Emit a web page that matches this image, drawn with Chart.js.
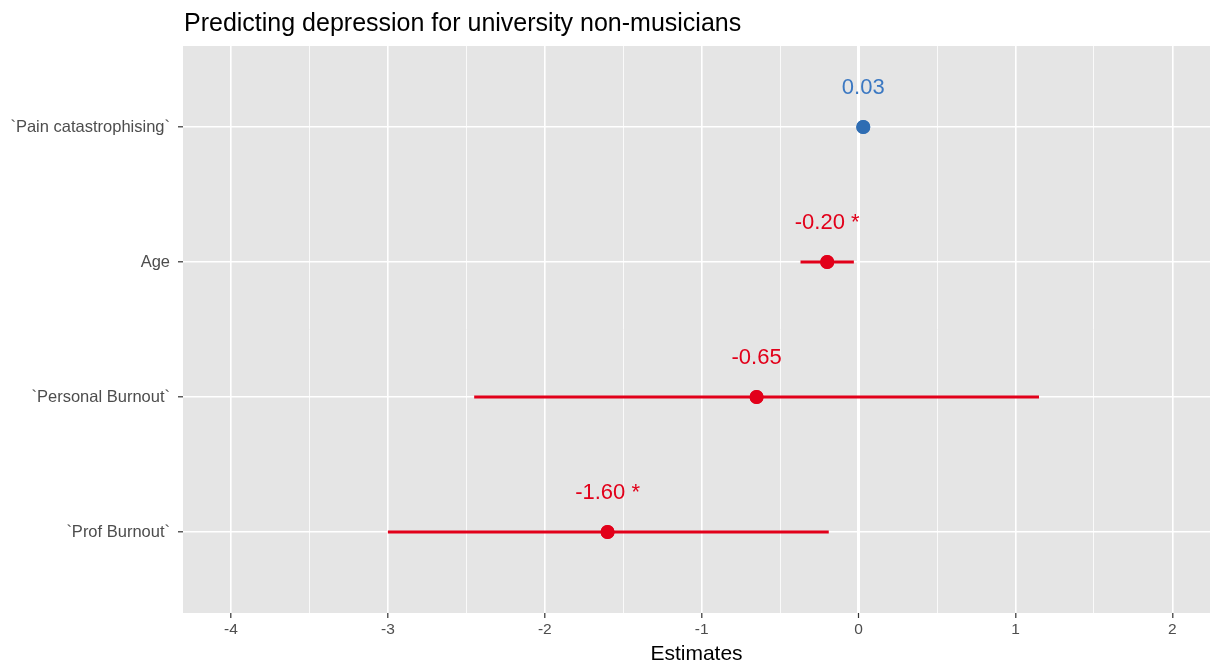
<!DOCTYPE html>
<html>
<head>
<meta charset="utf-8">
<script src="https://cdn.jsdelivr.net/npm/chart.js@4.4.1/dist/chart.umd.min.js"></script>
<style>
  html, body { margin: 0; padding: 0; background: #ffffff; }
  #wrap { width: 1210px; height: 664px; position: relative; }
</style>
</head>
<body>
<div id="wrap"><canvas id="c" width="1210" height="664"></canvas></div>
<script>
// Model terms, top to bottom
const terms = ["`Pain catastrophising`", "Age", "`Personal Burnout`", "`Prof Burnout`"];
const estimates = [0.03, -0.20, -0.65, -1.60];
const ciLow = [0.02, -0.37, -2.45, -3.00];
const ciHigh = [0.04, -0.03, 1.15, -0.19];
const stars = ["", " *", "", " *"];
const xTicks = [-4, -3, -2, -1, 0, 1, 2];

const BLUE = "#2f6db3";
const BLUE_TXT = "#3b78c2";
const RED = "#e2001a";
const colorFor = (i) => estimates[i] > 0 ? BLUE : RED;
const textColorFor = (i) => estimates[i] > 0 ? BLUE_TXT : RED;

const FONT = "'Liberation Sans', Arial, Helvetica, sans-serif";

const points = estimates.map((v, i) => ({ x: v, y: i + 1 }));

// Panel background
const panelBg = {
  id: "panelBg",
  beforeDraw(chart) {
    const { ctx, chartArea: a } = chart;
    ctx.save();
    ctx.fillStyle = "#e5e5e5";
    ctx.fillRect(a.left, a.top, a.right - a.left, a.bottom - a.top);
    ctx.restore();
  }
};

// Confidence interval bars and value labels
const intervals = {
  id: "intervals",
  afterDatasetsDraw(chart) {
    const { ctx, scales: { x, y } } = chart;
    ctx.save();
    terms.forEach((t, i) => {
      const py = y.getPixelForValue(i + 1);
      ctx.strokeStyle = colorFor(i);
      ctx.lineWidth = 3;
      ctx.beginPath();
      ctx.moveTo(x.getPixelForValue(ciLow[i]), py);
      ctx.lineTo(x.getPixelForValue(ciHigh[i]), py);
      ctx.stroke();
    });
    // points sit above their bars
    const meta = chart.getDatasetMeta(0);
    meta.data.forEach((el, i) => {
      ctx.fillStyle = colorFor(i);
      ctx.beginPath();
      ctx.arc(el.x, el.y, 7, 0, Math.PI * 2);
      ctx.fill();
    });
    ctx.font = "22px " + FONT;
    ctx.textAlign = "center";
    ctx.textBaseline = "middle";
    terms.forEach((t, i) => {
      const px = x.getPixelForValue(estimates[i]);
      const py = y.getPixelForValue(i + 1);
      ctx.fillStyle = textColorFor(i);
      ctx.fillText(estimates[i].toFixed(2) + stars[i], px, py - 39);
    });
    ctx.restore();
  }
};

// Title and axis title
const texts = {
  id: "texts",
  afterDraw(chart) {
    const { ctx, chartArea: a } = chart;
    ctx.save();
    ctx.fillStyle = "#000000";
    ctx.font = "25px " + FONT;
    ctx.textAlign = "left";
    ctx.textBaseline = "alphabetic";
    ctx.fillText("Predicting depression for university non-musicians", a.left + 1, 31);
    ctx.font = "21px " + FONT;
    ctx.textAlign = "center";
    ctx.textBaseline = "middle";
    ctx.fillText("Estimates", (a.left + a.right) / 2, 654);
    ctx.restore();
  }
};

new Chart(document.getElementById("c"), {
  type: "scatter",
  data: {
    datasets: [{
      data: points,
      pointRadius: 7,
      pointHoverRadius: 7,
      pointBackgroundColor: estimates.map((v, i) => colorFor(i)),
      pointBorderWidth: 0
    }]
  },
  options: {
    responsive: false,
    animation: false,
    events: [],
    layout: { autoPadding: false, padding: { left: 0, right: 0, top: 46, bottom: 0 } },
    plugins: { legend: { display: false }, tooltip: { enabled: false } },
    scales: {
      x: {
        type: "linear",
        min: -4.306,
        max: 2.24,
        afterBuildTicks(scale) {
          const t = [];
          for (let v = -4; v <= 2; v += 0.5) t.push({ value: v });
          scale.ticks = t;
        },
        afterFit(scale) {
          scale.height = 51;
          scale.paddingLeft = 0;
          scale.paddingRight = 0;
        },
        border: { display: false },
        grid: {
          drawOnChartArea: true,
          color: "#ffffff",
          lineWidth: (c) => {
            const v = c.tick ? c.tick.value : 0;
            if (Math.abs(v) < 1e-9) return 3;
            return Number.isInteger(v) ? 1.6 : 0.8;
          },
          tickLength: 5,
          tickColor: (c) => (c.tick && Number.isInteger(c.tick.value)) ? "#333333" : "rgba(0,0,0,0)",
          tickWidth: 1.2
        },
        ticks: {
          autoSkip: false,
          maxRotation: 0,
          padding: 2,
          color: "#4d4d4d",
          font: { family: FONT, size: 15.5 },
          callback: (v) => xTicks.includes(v) ? String(v) : ""
        }
      },
      y: {
        type: "linear",
        reverse: true,
        min: 0.4,
        max: 4.6,
        afterBuildTicks(scale) {
          scale.ticks = terms.map((t, i) => ({ value: i + 1 }));
        },
        afterFit(scale) {
          scale.width = 183;
          scale.paddingTop = 0;
          scale.paddingBottom = 0;
        },
        border: { display: false },
        grid: {
          color: "#ffffff",
          lineWidth: 1.6,
          tickLength: 5,
          tickColor: "#333333",
          tickWidth: 1.2
        },
        ticks: {
          autoSkip: false,
          padding: 8,
          color: "#4d4d4d",
          font: { family: FONT, size: 16.5 },
          callback: (v) => terms[v - 1] || ""
        }
      }
    }
  },
  plugins: [panelBg, intervals, texts]
});
</script>
</body>
</html>
